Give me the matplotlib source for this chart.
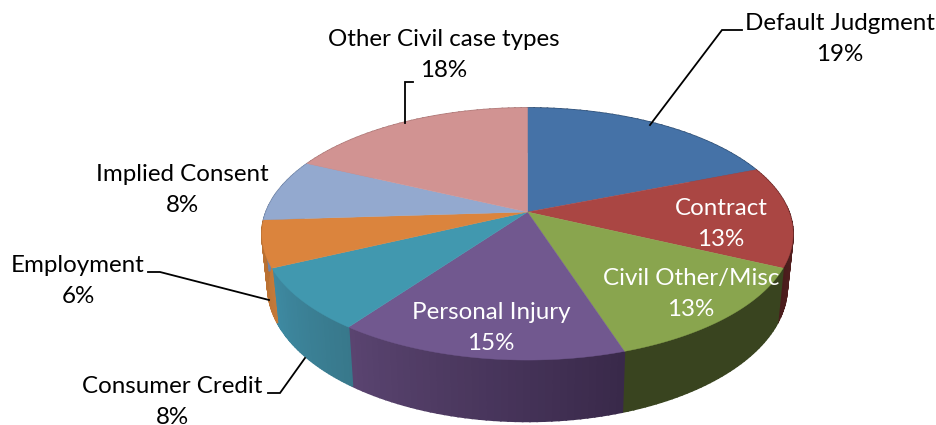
import numpy as np
from matplotlib import pyplot as plt
from matplotlib.colors import to_rgb

names = ['Default Judgment', 'Contract', 'Civil Other/Misc', 'Personal Injury',
         'Consumer Credit', 'Employment', 'Implied Consent', 'Other Civil case types']
values = [19, 13, 13, 15, 8, 6, 8, 18]

top_colors = ['#4572A7', '#AA4643', '#89A54E', '#71588F', '#4198AF', '#DB843D', '#93A9CF', '#D19392']
side_start = ['#2c4a6e', '#6e2a2a', '#39441f', '#39294a', '#38788b', '#c47a3a', '#6f83a5', '#a87473']
side_end = ['#2c4a6e', '#4a1c1c', '#39441f', '#5a4470', '#3e8aa2', '#b86f30', '#6f83a5', '#a87473']

# geometry of the tilted pie, in pixels
cx, cy = 527.5, 212
rx, ry = 261.5, 122.2
persp = 0.1746
font = ['Lato', 'DejaVu Sans']


def top_edge(a):
    u, v = np.sin(a), np.cos(a)
    d = 1 + persp * v
    return cx + rx * u / d, cy - ry * v / d


def bottom_edge(a):
    x, y = top_edge(a)
    return cx + 0.978 * (x - cx), 263 + 1.07 * (y - cy)


fig = plt.figure(figsize=(9.37, 4.25), dpi=100)
ax = fig.add_axes([0, 0, 1, 1])
ax.set_xlim(0, 937)
ax.set_ylim(425, 0)
ax.axis('off')

edges = np.cumsum([0] + values) / sum(values) * 2 * np.pi

# sides first, the top faces go over them
for i in range(len(values)):
    steps = 40
    a = np.linspace(edges[i], edges[i + 1], steps + 1)
    c0 = np.array(to_rgb(side_end[i]))
    c1 = np.array(to_rgb(side_start[i]))
    for j in range(steps):
        x1, y1 = top_edge(a[j:j + 2])
        x2, y2 = bottom_edge(a[j:j + 2])
        col = c1 + (c0 - c1) * (j + 0.5) / steps
        ax.fill(np.r_[x1, x2[::-1]], np.r_[y1, y2[::-1]], color=col, lw=1.2, zorder=1)

for i in range(len(values)):
    a = np.linspace(edges[i], edges[i + 1], 80)
    x, y = top_edge(a)
    ax.fill(np.r_[cx, x], np.r_[cy, y], color=top_colors[i], lw=0.3, zorder=2)

# leader lines
leaders = [([650, 722, 742], [125, 30, 30]),
           ([405, 405, 413], [123, 82, 82]),
           ([269, 160, 148], [300, 272, 272]),
           ([305, 280, 268], [358, 393, 393])]
for lx, ly in leaders:
    ax.plot(lx, ly, color='black', lw=1.3, zorder=3, solid_joinstyle='miter')

label_x = [840, 721, 691, 491, 172, 78, 182, 444]
label_y = [39, 224, 294, 328, 402, 281, 190, 55]
label_colors = ['black', 'white', 'white', 'white', 'black', 'black', 'black', 'black']
for i in range(len(values)):
    ax.text(label_x[i], label_y[i], '%s\n%d%%' % (names[i], values[i]), ha='center', va='center',
            color=label_colors[i], fontsize=17.4, family=font, linespacing=1.6, zorder=4)

plt.savefig('out.png', dpi=100)
